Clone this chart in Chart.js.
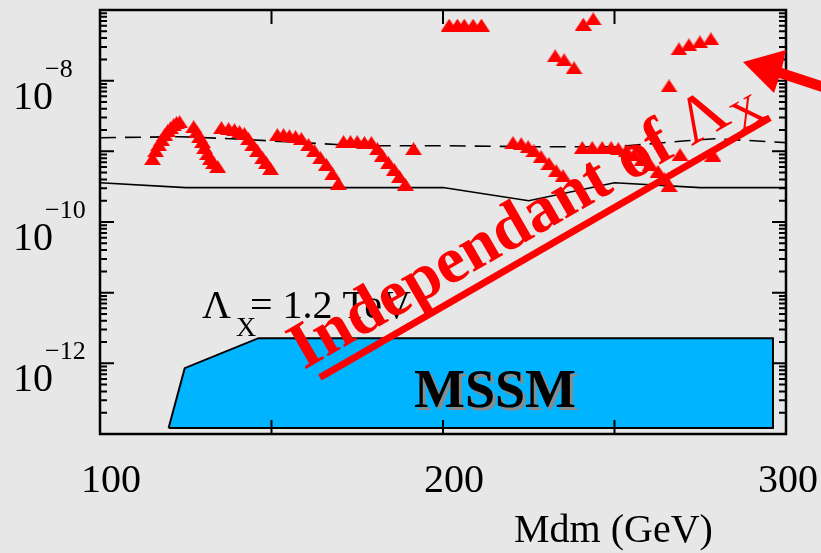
<!DOCTYPE html>
<html>
<head>
<meta charset="utf-8">
<script src="https://cdn.jsdelivr.net/npm/chart.js@4"></script>
<style>
  html, body { margin: 0; padding: 0; background: #e7e7e7; }
</style>
</head>
<body>
<canvas id="myChart" width="821" height="553"></canvas>
<script>
// red triangles : Mdm (GeV) and value
let triangleMass = [
  115.3, 116.2, 117.1, 118.0, 118.9, 119.7, 120.6, 121.5, 122.3, 123.2,
  127.3, 128.2, 129.0, 129.9, 130.5, 131.4, 132.2, 133.1, 134.3,
  135.4, 137.5, 139.2, 140.7, 142.1, 143.3, 144.5, 145.9, 147.4, 148.5, 149.7,
  151.7, 153.5, 155.2, 157.0, 158.7, 160.8, 162.5, 164.3, 166.0, 167.8, 169.5,
  171.0, 173.0, 175.0, 177.1, 179.1, 180.9, 182.3, 184.1, 185.8, 187.3, 189.0,
  191.4,
  220.4, 222.8, 224.8, 226.5, 228.6, 230.9, 233.0, 235.0,
  240.6, 243.5, 246.4, 249.0, 251.1, 253.4, 255.7, 258.0, 260.4, 262.7, 264.5, 265.9,
  269.1, 278.7,
  201.8, 204.2, 206.2, 208.8, 211.2,
  240.9, 243.8,
  232.7, 235.3, 238.2,
  268.8, 271.7, 274.9, 278.1,
  265.9
];
let triangleValue = [
  7.9e-10, 1.02e-9, 1.24e-9, 1.46e-9, 1.72e-9, 1.96e-9, 2.16e-9, 2.38e-9, 2.54e-9, 2.62e-9,
  2.23e-9, 1.89e-9, 1.61e-9, 1.37e-9, 1.13e-9, 9.3e-10, 7.9e-10, 6.9e-10, 6.1e-10,
  2.16e-9, 2.09e-9, 2.02e-9, 1.89e-9, 1.78e-9, 1.51e-9, 1.24e-9, 1.02e-9, 8.1e-10, 6.9e-10, 5.7e-10,
  1.72e-9, 1.72e-9, 1.66e-9, 1.61e-9, 1.51e-9, 1.24e-9, 1.02e-9, 8.1e-10, 6.5e-10, 4.8e-10, 3.5e-10,
  1.37e-9, 1.37e-9, 1.37e-9, 1.33e-9, 1.33e-9, 1.09e-9, 8.7e-10, 6.9e-10, 5.5e-10, 4.4e-10, 3.4e-10,
  1.09e-9,
  1.33e-9, 1.28e-9, 1.16e-9, 1.02e-9, 8.4e-10, 6.7e-10, 5.3e-10, 4.5e-10,
  1.13e-9, 1.13e-9, 1.13e-9, 1.13e-9, 1.09e-9, 1.02e-9, 9.0e-10, 7.6e-10, 6.5e-10, 5.2e-10, 4.1e-10, 3.3e-10,
  9.0e-10, 8.8e-10,
  6.1e-8, 6.1e-8, 6.1e-8, 6.1e-8, 6.1e-8,
  6.3e-8, 7.5e-8,
  2.24e-8, 1.97e-8, 1.52e-8,
  2.81e-8, 3.21e-8, 3.53e-8, 3.9e-8,
  8.45e-9
];

// solid black curve
let solidMass = [100, 125, 200, 225, 250, 275, 300];
let solidValue = [3.6e-10, 3.07e-10, 3.07e-10, 2.0e-10, 3.6e-10, 3.07e-10, 3.07e-10];

// dashed black curve
let dashedMass = [100, 123.5, 138.1, 158.4, 175.9, 200, 225.4, 250, 270.9, 279.3, 300];
let dashedValue = [1.56e-9, 1.61e-9, 1.51e-9, 1.33e-9, 1.2e-9, 1.2e-9, 1.16e-9, 1.16e-9, 1.41e-9, 1.51e-9, 1.33e-9];

// MSSM region outline
let mssmMass = [120, 124.7, 146.2, 296.2, 296.2, 120];
let mssmValue = [1.22e-13, 8.54e-13, 2.27e-12, 2.27e-12, 1.22e-13, 1.22e-13];

let xTickLabels = [100, 200, 300];
let yTickExponents = [-8, -10, -12];

function toPoints(xs, ys) {
  return xs.map((x, i) => ({ x: x, y: ys[i] }));
}

// flattened red triangle used as marker
function makeTriangle() {
  let c = document.createElement("canvas");
  c.width = 17;
  c.height = 13;
  let g = c.getContext("2d");
  g.fillStyle = "#ff0000";
  g.beginPath();
  g.moveTo(8.5, 0);
  g.lineTo(17, 13);
  g.lineTo(0, 13);
  g.closePath();
  g.fill();
  return c;
}

const serif = '"Liberation Serif", "DejaVu Serif", serif';

const framePlugin = {
  id: "frame",
  afterDatasetsDraw(chart) {
    let ctx = chart.ctx;
    let area = chart.chartArea;
    let xs = chart.scales.x;
    let ys = chart.scales.y;
    ctx.save();

    // frame and inward ticks
    ctx.strokeStyle = "#000";
    ctx.lineWidth = 2.5;
    ctx.strokeRect(area.left, area.top, area.right - area.left, area.bottom - area.top);
    ctx.lineWidth = 2;
    ctx.beginPath();
    for (let m = 100; m <= 300; m += 50) {
      let px = xs.getPixelForValue(m);
      ctx.moveTo(px, area.bottom);
      ctx.lineTo(px, area.bottom - 14);
      ctx.moveTo(px, area.top);
      ctx.lineTo(px, area.top + 14);
    }
    for (let e = -13; e <= -7; e++) {
      for (let k = 1; k <= 9; k++) {
        let v = k * Math.pow(10, e);
        if (v > 1.0001e-7) break;
        let py = ys.getPixelForValue(v);
        let len = k === 1 ? 14 : 7;
        ctx.moveTo(area.left, py);
        ctx.lineTo(area.left + len, py);
        ctx.moveTo(area.right, py);
        ctx.lineTo(area.right - len, py);
      }
    }
    ctx.stroke();

    // tick labels
    ctx.fillStyle = "#000";
    ctx.textBaseline = "alphabetic";
    ctx.font = "40px " + serif;
    ctx.textAlign = "center";
    xTickLabels.forEach((m) => {
      let px = Math.min(xs.getPixelForValue(m) + 11, 821 - 33);
      ctx.fillText(String(m), px, 492);
    });
    ctx.textAlign = "left";
    yTickExponents.forEach((e) => {
      let py = ys.getPixelForValue(Math.pow(10, e));
      ctx.font = "40px " + serif;
      ctx.fillText("10", 13, py + 28);
      ctx.font = "26px " + serif;
      ctx.fillText("\u2212" + Math.abs(e), 45, py - 4);
    });

    // axis title
    ctx.font = "40px " + serif;
    ctx.fillText("Mdm (GeV)", 514, 542);

    // Lambda label
    ctx.font = "40px " + serif;
    ctx.fillText("\u039B", 202, 318);
    ctx.font = "28px " + serif;
    ctx.fillText("X", 236, 336);
    ctx.font = "40px " + serif;
    ctx.fillText("= 1.2 TeV", 250, 318);

    // MSSM label
    ctx.font = "bold 54px " + serif;
    ctx.fillStyle = "#8a8a8a";
    ctx.fillText("MSSM", 417, 410);
    ctx.fillStyle = "#000";
    ctx.fillText("MSSM", 414, 407);

    // red rotated note
    ctx.fillStyle = "#ff0000";
    ctx.save();
    ctx.translate(304, 370);
    ctx.rotate(-30 * Math.PI / 180);
    ctx.font = "bold 66px " + serif;
    let t1 = "Independant of ";
    ctx.fillText(t1, 0, 0);
    let w = ctx.measureText(t1).width;
    ctx.font = "66px " + serif;
    ctx.fillText("\u039B", w, 0);
    w += ctx.measureText("\u039B").width;
    ctx.font = "42px " + serif;
    ctx.fillText("X", w + 2, 12);
    w += ctx.measureText("X").width + 4;
    ctx.fillRect(10, 11, w - 10, 7);
    ctx.restore();

    // red arrow
    ctx.beginPath();
    ctx.moveTo(743, 62);
    ctx.lineTo(786, 50);
    ctx.lineTo(782, 68);
    ctx.lineTo(825, 82);
    ctx.lineTo(825, 93);
    ctx.lineTo(779, 78);
    ctx.lineTo(774, 93);
    ctx.closePath();
    ctx.fill();

    ctx.restore();
  }
};

const config = {
  type: "scatter",
  data: {
    datasets: [
      {
        label: "points",
        data: toPoints(triangleMass, triangleValue),
        pointStyle: makeTriangle(),
        pointRadius: 8,
        order: 0
      },
      {
        label: "solid",
        data: toPoints(solidMass, solidValue),
        showLine: true,
        borderColor: "#000",
        borderWidth: 1.6,
        pointRadius: 0,
        fill: false,
        order: 1
      },
      {
        label: "dashed",
        data: toPoints(dashedMass, dashedValue),
        showLine: true,
        borderColor: "#000",
        borderWidth: 1.6,
        borderDash: [16, 9],
        pointRadius: 0,
        fill: false,
        order: 1
      },
      {
        label: "MSSM",
        data: toPoints(mssmMass, mssmValue),
        showLine: true,
        borderColor: "#000",
        borderWidth: 2,
        backgroundColor: "#00b4ff",
        pointRadius: 0,
        fill: "shape",
        order: 2
      }
    ]
  },
  options: {
    responsive: false,
    animation: false,
    devicePixelRatio: 1,
    layout: { padding: { left: 100, right: 35, top: 10, bottom: 119 } },
    plugins: { legend: { display: false }, tooltip: { enabled: false } },
    scales: {
      x: { type: "linear", min: 100, max: 300, display: false },
      y: { type: "logarithmic", min: 1e-13, max: 1e-7, display: false }
    }
  },
  plugins: [framePlugin]
};

const newChart = new Chart(document.getElementById("myChart"), config);
</script>
</body>
</html>
